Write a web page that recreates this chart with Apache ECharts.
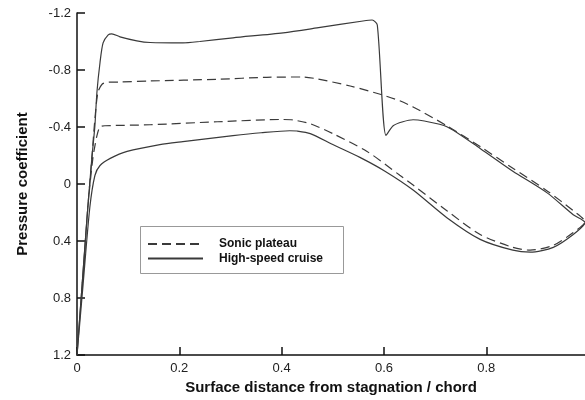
<!DOCTYPE html>
<html>
<head>
<meta charset="utf-8">
<script src="https://cdn.jsdelivr.net/npm/echarts@6/dist/echarts.min.js"></script>
<style>
  html, body { margin: 0; padding: 0; background: #fff; }
  #main { width: 585px; height: 400px; }
</style>
</head>
<body>
<div id="main"></div>
<script>
// tick labels
var xTicks = [0, 0.2, 0.4, 0.6, 0.8];
var yTicks = [-1.2, -0.8, -0.4, 0, 0.4, 0.8, 1.2];

// [surface distance, Cp]; upper surface then lower surface
var sonicUpper = [
  [0, 1.2], [0.011, 0.66], [0.021, 0.17], [0.029, -0.18], [0.035, -0.457], [0.041, -0.645],
  [0.049, -0.7], [0.059, -0.714], [0.084, -0.716], [0.143, -0.723], [0.274, -0.735],
  [0.371, -0.749], [0.442, -0.751], [0.469, -0.738], [0.534, -0.688], [0.598, -0.624],
  [0.631, -0.584], [0.657, -0.541], [0.723, -0.409], [0.788, -0.263], [0.852, -0.111],
  [0.919, 0.048], [0.97, 0.187], [0.993, 0.265]
];
var sonicLower = [
  [0.993, 0.265], [0.97, 0.34], [0.931, 0.43], [0.886, 0.464], [0.852, 0.444], [0.788, 0.354],
  [0.723, 0.187], [0.657, 0.007], [0.631, -0.062], [0.567, -0.229], [0.5, -0.354],
  [0.456, -0.423], [0.422, -0.45], [0.403, -0.453], [0.274, -0.437], [0.143, -0.416],
  [0.055, -0.409], [0.045, -0.402], [0.039, -0.34], [0.031, -0.18], [0.021, 0.17],
  [0.011, 0.66], [0, 1.2]
];
var cruiseUpper = [
  [0, 1.2], [0.011, 0.66], [0.021, 0.17], [0.029, -0.18], [0.035, -0.41], [0.039, -0.646],
  [0.045, -0.853], [0.051, -0.99], [0.061, -1.047], [0.068, -1.054], [0.084, -1.033],
  [0.117, -1.005], [0.143, -0.993], [0.207, -0.99], [0.24, -1.0], [0.305, -1.026],
  [0.403, -1.061], [0.469, -1.095], [0.559, -1.144], [0.577, -1.151], [0.587, -1.116],
  [0.604, -0.341], [0.618, -0.409], [0.637, -0.437], [0.657, -0.451], [0.676, -0.444],
  [0.723, -0.402], [0.788, -0.25], [0.852, -0.09], [0.919, 0.062], [0.97, 0.215], [0.993, 0.27]
];
var cruiseLower = [
  [0.993, 0.27], [0.97, 0.354], [0.931, 0.444], [0.886, 0.478], [0.852, 0.464], [0.788, 0.388],
  [0.723, 0.236], [0.657, 0.042], [0.602, -0.09], [0.553, -0.187], [0.5, -0.277],
  [0.456, -0.354], [0.43, -0.372], [0.416, -0.374], [0.36, -0.36], [0.305, -0.34],
  [0.207, -0.298], [0.162, -0.277], [0.098, -0.229], [0.065, -0.18], [0.045, -0.13],
  [0.035, -0.06], [0.025, 0.166], [0.012, 0.7], [0, 1.2]
];

var font = "'Liberation Sans', Arial, sans-serif";
var lineColor = '#3a3a3a';

var chart = echarts.init(document.getElementById('main'));
var option = {
  animation: false,
  backgroundColor: '#fff',
  grid: { left: 77, right: 0, top: 13, bottom: 41 },
  legend: {
    data: ['Sonic plateau', 'High-speed cruise'],
    orient: 'vertical',
    left: 147,
    top: 238,
    padding: 0,
    itemWidth: 55,
    itemHeight: 14,
    itemGap: 2.5,
    itemStyle: { opacity: 0 },
    textStyle: { fontFamily: font, fontWeight: 'bold', fontSize: 12, color: '#111', padding: [0, 0, 0, 11] }
  },
  graphic: [{
    type: 'rect',
    z: 1,
    shape: { x: 140.5, y: 226.5, width: 203, height: 47 },
    style: { fill: 'transparent', stroke: '#999', lineWidth: 1 }
  }],
  xAxis: {
    type: 'value',
    min: 0,
    max: 0.993,
    name: 'Surface distance from stagnation / chord',
    nameLocation: 'middle',
    nameGap: 24,
    nameTextStyle: { fontFamily: font, fontWeight: 'bold', fontSize: 15, color: '#111' },
    axisLine: { onZero: false, lineStyle: { color: '#111', width: 1.5 } },
    axisTick: { inside: true, length: 8, customValues: xTicks, lineStyle: { color: '#111', width: 1.5 } },
    axisLabel: { customValues: xTicks, margin: 7, fontFamily: font, fontSize: 13, color: '#222' },
    splitLine: { show: false }
  },
  yAxis: {
    type: 'value',
    inverse: true,
    min: -1.2,
    max: 1.2,
    name: 'Pressure coefficient',
    nameLocation: 'middle',
    nameRotate: 90,
    nameGap: 47,
    nameTextStyle: { fontFamily: font, fontWeight: 'bold', fontSize: 15, color: '#111' },
    axisLine: { show: true, onZero: false, lineStyle: { color: '#111', width: 1.5 } },
    axisTick: { show: true, inside: true, length: 8, customValues: yTicks, lineStyle: { color: '#111', width: 1.5 } },
    axisLabel: { customValues: yTicks, margin: 6, fontFamily: font, fontSize: 13, color: '#222' },
    splitLine: { show: false }
  },
  series: [
    {
      name: 'Sonic plateau',
      type: 'line',
      symbol: 'none',
      smooth: 0.25,
      data: sonicUpper.concat(sonicLower),
      lineStyle: { color: lineColor, width: 1.2, type: [9, 5] },
      itemStyle: { color: lineColor }
    },
    {
      name: 'High-speed cruise',
      type: 'line',
      symbol: 'none',
      smooth: 0.25,
      data: cruiseUpper.concat(cruiseLower),
      lineStyle: { color: lineColor, width: 1.2, type: 'solid' },
      itemStyle: { color: lineColor }
    }
  ]
};
chart.setOption(option);
</script>
</body>
</html>
